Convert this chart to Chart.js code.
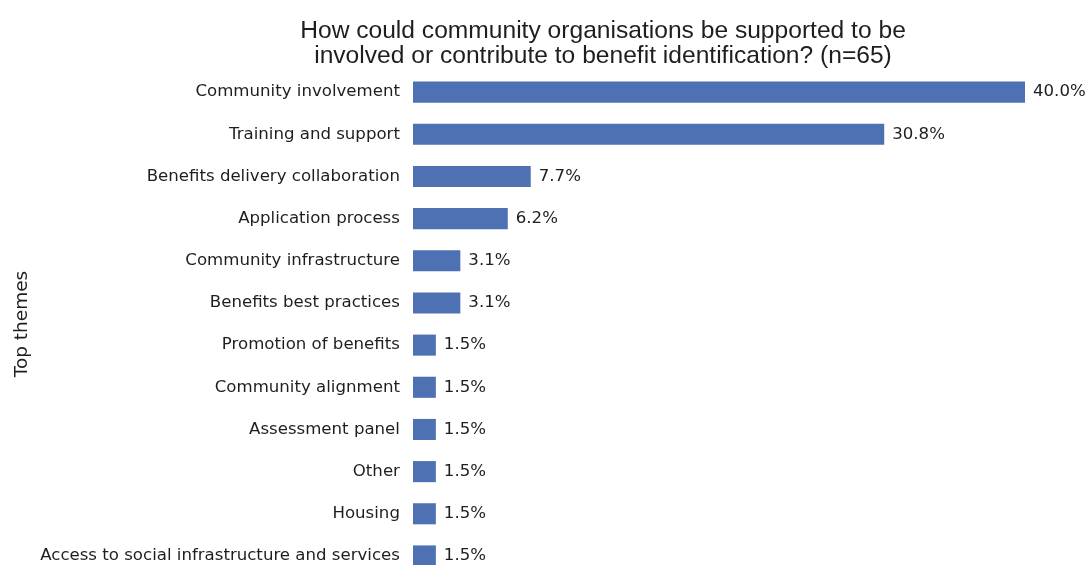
<!DOCTYPE html>
<html>
<head>
<meta charset="utf-8">
<script src="https://cdn.jsdelivr.net/npm/chart.js@4.4.1/dist/chart.umd.min.js"></script>
<style>
    html, body { margin: 0; padding: 0; background: #fff; width: 1088px; height: 565px; overflow: hidden; }
    #wrap { position: relative; width: 1088px; height: 565px; overflow: hidden; }
    #themesChart { display: block; }
</style>
</head>
<body>
<div id="wrap"><canvas id="themesChart" width="1088" height="600"></canvas></div>
<script>
const titleLines = [
    'How could community organisations be supported to be',
    'involved or contribute to benefit identification? (n=65)'
];
const themes = [
    'Community involvement',
    'Training and support',
    'Benefits delivery collaboration',
    'Application process',
    'Community infrastructure',
    'Benefits best practices',
    'Promotion of benefits',
    'Community alignment',
    'Assessment panel',
    'Other',
    'Housing',
    'Access to social infrastructure and services'
];
const shares = [40.0, 30.8, 7.7, 6.2, 3.1, 3.1, 1.5, 1.5, 1.5, 1.5, 1.5, 1.5];

const textColor = '#1e1e1e';
const labelFont = '16.6px "DejaVu Sans", sans-serif';

// two-line heading, centred over the bars rather than the canvas
const headingPlugin = {
    id: 'heading',
    afterDraw(chart) {
        const ctx = chart.ctx;
        ctx.save();
        ctx.fillStyle = textColor;
        ctx.font = '24.6px "Liberation Sans Narrow", "Liberation Sans", sans-serif';
        ctx.textAlign = 'center';
        ctx.textBaseline = 'middle';
        titleLines.forEach((line, i) => ctx.fillText(line, 603, 31 + i * 25));
        ctx.restore();
    }
};

// percentage printed just past the end of each bar
const valueLabels = {
    id: 'valueLabels',
    afterDatasetsDraw(chart) {
        const ctx = chart.ctx;
        const meta = chart.getDatasetMeta(0);
        ctx.save();
        ctx.fillStyle = textColor;
        ctx.font = labelFont;
        ctx.textAlign = 'left';
        ctx.textBaseline = 'middle';
        meta.data.forEach((bar, i) => {
            ctx.fillText(shares[i].toFixed(1) + '%', bar.x + 8, bar.y);
        });
        ctx.restore();
    }
};

new Chart(document.getElementById('themesChart'), {
    type: 'bar',
    data: {
        labels: themes,
        datasets: [{
            data: shares,
            backgroundColor: '#4e71b3',
            borderWidth: 0,
            categoryPercentage: 0.5,
            barPercentage: 1.0
        }]
    },
    options: {
        indexAxis: 'y',
        responsive: false,
        animation: false,
        devicePixelRatio: 1,
        layout: { padding: { top: 71, right: 63, bottom: 3, left: 11 } },
        plugins: {
            legend: { display: false },
            tooltip: { enabled: false }
        },
        scales: {
            x: { display: false, min: 0, max: 40 },
            y: {
                grid: { display: false, drawTicks: false },
                border: { display: false },
                ticks: { color: textColor, font: { family: 'DejaVu Sans', size: 16.6 }, padding: 13 },
                title: {
                    display: true,
                    text: 'Top themes',
                    color: textColor,
                    font: { family: 'DejaVu Sans', size: 18.5 },
                    padding: { top: 0, bottom: -6 }
                }
            }
        }
    },
    plugins: [headingPlugin, valueLabels]
});
</script>
</body>
</html>
